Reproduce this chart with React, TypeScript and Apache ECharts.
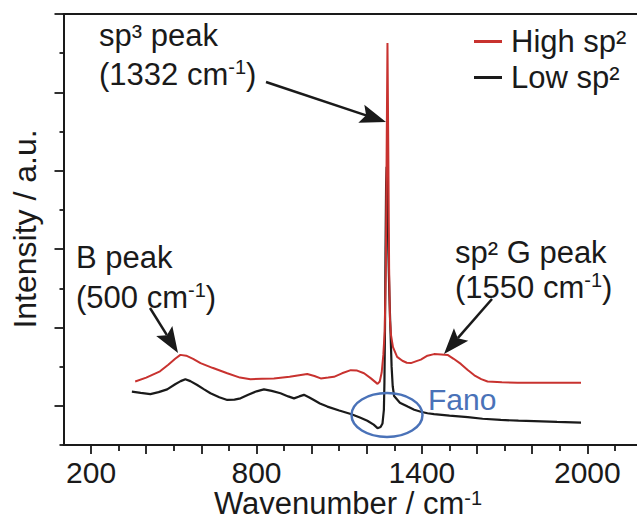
import React, { useEffect, useRef } from 'react';
import * as echarts from 'echarts';

// ---- data (x in axis units as drawn, y in arbitrary units) ----
const highSp2: [number, number][] = [
  [360, 1.62], [400, 1.72], [450, 1.88], [480, 2.05], [505, 2.2], [524, 2.3], [545, 2.28], [570, 2.2],
  [597, 2.09], [640, 1.97], [694, 1.83], [740, 1.72], [778, 1.68], [820, 1.69], [863, 1.7], [920, 1.74],
  [984, 1.81], [1010, 1.76], [1033, 1.7], [1060, 1.72], [1081, 1.74], [1110, 1.83], [1142, 1.91],
  [1165, 1.9], [1190, 1.83], [1215, 1.7], [1239, 1.56], [1247, 1.62], [1254, 1.85], [1260, 2.3],
  [1265, 2.9], [1269, 4.5], [1272, 7.5], [1275, 10.26], [1278, 7.5], [1281, 4.5], [1284, 3.2],
  [1288, 2.8], [1295, 2.5], [1310, 2.25], [1329, 2.15], [1345, 2.1], [1360, 2.09], [1380, 2.14],
  [1396, 2.18], [1420, 2.28], [1444, 2.32], [1470, 2.31], [1493, 2.3], [1515, 2.2], [1541, 2.07],
  [1565, 1.92], [1590, 1.78], [1615, 1.68], [1638, 1.62], [1690, 1.6], [1747, 1.59], [1850, 1.59],
  [1977, 1.59]
];
const lowSp2: [number, number][] = [
  [348, 1.36], [380, 1.33], [415, 1.3], [445, 1.35], [476, 1.42], [505, 1.55], [525, 1.63], [542, 1.68],
  [560, 1.63], [585, 1.53], [610, 1.42], [633, 1.32], [665, 1.22], [694, 1.15], [720, 1.16], [742, 1.19],
  [770, 1.28], [800, 1.37], [827, 1.42], [855, 1.38], [887, 1.32], [915, 1.24], [936, 1.19], [955, 1.24],
  [972, 1.28], [990, 1.22], [1008, 1.15], [1030, 1.06], [1057, 0.98], [1100, 0.88], [1142, 0.79],
  [1175, 0.7], [1202, 0.62], [1225, 0.52], [1239, 0.43], [1250, 0.46], [1257, 0.55], [1262, 0.9],
  [1264, 1.6], [1266, 3.0], [1268, 5.0], [1270, 6.6], [1272, 7.1], [1275, 6.4], [1278, 5.0],
  [1282, 3.8], [1286, 2.9], [1290, 2.0], [1294, 1.5], [1299, 1.25], [1320, 1.08], [1348, 0.98],
  [1372, 0.9], [1396, 0.85], [1420, 0.81], [1444, 0.79], [1500, 0.75], [1566, 0.71], [1620, 0.67],
  [1686, 0.64], [1750, 0.62], [1807, 0.61], [1890, 0.59], [1977, 0.57]
];
const seriesNames = ['High sp²', 'Low sp²'];
const xLabelValues = [200, 800, 1400, 2000];
const xMajorTicks = [200, 400, 600, 800, 1000, 1200, 1400, 1600, 1800, 2000];
const xMinorTicks = [300, 500, 700, 900, 1100, 1300, 1500, 1700, 1900, 2100];
const yMajorTicks = [1, 3, 5, 7, 9, 11];
const yMinorTicks = [0, 2, 4, 6, 8, 10];

const FONT = '"Liberation Sans", Arial, Helvetica, sans-serif';
const INK = '#1a1a1a';
const RED = '#c8322f';
const BLUE = '#4a72b8';

function supRich(fs: number, color = INK, lh = fs + 4) {
  const ss = Math.round(fs * 0.66);
  return {
    n: { fontSize: fs, fontFamily: FONT, color, lineHeight: lh },
    s: { fontSize: ss, fontFamily: FONT, color, verticalAlign: 'top', lineHeight: ss }
  };
}

function label(text: string, x: number, y: number, fs: number, extra: any = {}) {
  return {
    type: 'text', x, y, z: 100,
    style: {
      text, fill: INK, font: `${fs}px ${FONT}`, fontSize: fs, fontFamily: FONT,
      rich: supRich(fs), align: 'left', verticalAlign: 'middle', ...extra
    }
  };
}

function arrow(x1: number, y1: number, x2: number, y2: number) {
  const dx = x2 - x1, dy = y2 - y1, L = Math.hypot(dx, dy);
  const ux = dx / L, uy = dy / L;
  const hl = 26, hw = 9.5, notch = 5;
  const bx = x2 - ux * hl, by = y2 - uy * hl;
  return [
    { type: 'line', z: 100, shape: { x1, y1, x2: bx + ux * notch, y2: by + uy * notch }, style: { stroke: INK, lineWidth: 2.5 } },
    {
      type: 'polygon', z: 100,
      shape: { points: [[x2, y2], [bx - uy * hw, by + ux * hw], [bx + ux * notch, by + uy * notch], [bx + uy * hw, by - ux * hw]] },
      style: { fill: INK }
    }
  ];
}

export default function App() {
  const ref = useRef<HTMLDivElement>(null);
  useEffect(() => {
    if (!ref.current) return;
    const chart = echarts.init(ref.current, undefined, { renderer: 'svg' });
    const xCommon = { type: 'value', min: 100, max: 2180, interval: 100, splitLine: { show: false } };
    const yCommon = { type: 'value', min: 0, max: 11, interval: 1, splitLine: { show: false } };
    chart.setOption({
      animation: false,
      backgroundColor: '#ffffff',
      grid: { left: 63.5, top: 14, right: 0, bottom: 75, containLabel: false, outerBoundsMode: 'none' },
      legend: {
        data: seriesNames, orient: 'vertical', left: 474, top: 26, itemWidth: 28, itemHeight: 3,
        icon: 'rect', itemGap: 5, padding: 0,
        textStyle: { fontSize: 31, fontFamily: FONT, color: INK, lineHeight: 31, padding: [0, 0, 0, 4] }
      },
      xAxis: [
        {
          ...xCommon, position: 'bottom',
          axisLine: { show: true, onZero: false, lineStyle: { color: INK, width: 2 } },
          axisTick: { show: true, inside: false, length: 9, customValues: xMajorTicks, lineStyle: { color: INK, width: 1.8 } },
          axisLabel: {
            show: true, customValues: xLabelValues, fontSize: 30, lineHeight: 24, fontFamily: FONT, color: INK, margin: 15,
            formatter: (v: number) => String(v)
          }
        },
        {
          ...xCommon, position: 'bottom',
          axisLine: { show: false },
          axisTick: { show: true, inside: false, length: 6, customValues: xMinorTicks, lineStyle: { color: INK, width: 1.8 } },
          axisLabel: { show: false }
        },
        {
          ...xCommon, position: 'top',
          axisLine: { show: true, onZero: false, lineStyle: { color: INK, width: 2 } },
          axisTick: { show: false }, axisLabel: { show: false }
        }
      ],
      yAxis: [
        {
          ...yCommon, position: 'left',
          axisLine: { show: true, onZero: false, lineStyle: { color: INK, width: 2 } },
          axisTick: { show: true, inside: false, length: 9, customValues: yMajorTicks, lineStyle: { color: INK, width: 1.8 } },
          axisLabel: { show: false }
        },
        {
          ...yCommon, position: 'left',
          axisLine: { show: false },
          axisTick: { show: true, inside: false, length: 4, customValues: yMinorTicks, lineStyle: { color: INK, width: 1.8 } },
          axisLabel: { show: false }
        }
      ],
      series: [
        {
          name: seriesNames[1], type: 'line', data: lowSp2, showSymbol: false, symbol: 'none',
          lineStyle: { color: INK, width: 2.2 }, itemStyle: { color: INK }, z: 2
        },
        {
          name: seriesNames[0], type: 'line', data: highSp2, showSymbol: false, symbol: 'none',
          lineStyle: { color: RED, width: 2 }, itemStyle: { color: RED }, z: 3
        }
      ],
      graphic: [
        label('sp³ peak', 99, 35, 31),
        label('{n|(1332 cm}{s|-1}{n|)}', 99, 74, 31),
        label('B peak', 76, 257, 31),
        label('{n|(500 cm}{s|-1}{n|)}', 76, 297, 31),
        label('sp² G peak', 455, 252, 31),
        label('{n|(1550 cm}{s|-1}{n|)}', 455, 287, 31),
        ...arrow(266, 82, 386, 122),
        ...arrow(150, 308, 178, 353),
        ...arrow(492, 299, 444, 354),
        {
          type: 'ellipse', z: 100, shape: { cx: 387, cy: 415, rx: 35.5, ry: 22 },
          style: { fill: 'none', stroke: BLUE, lineWidth: 2.5 }
        },
        {
          type: 'text', x: 428, y: 399, z: 100,
          style: { text: 'Fano', fill: BLUE, font: `30px ${FONT}`, fontSize: 30, fontFamily: FONT, align: 'left', verticalAlign: 'middle' }
        },
        {
          type: 'text', x: 348, y: 503, z: 100,
          style: { text: '{n|Wavenumber / cm}{s|-1}', rich: supRich(31, INK, 30), align: 'center', verticalAlign: 'middle', fontSize: 31, fontFamily: FONT, fill: INK }
        },
        {
          type: 'text', x: 25, y: 229, z: 100, rotation: Math.PI / 2,
          style: { text: 'Intensity / a.u.', fill: INK, font: `32px ${FONT}`, fontSize: 32, fontFamily: FONT, align: 'center', verticalAlign: 'middle' }
        }
      ]
    });
    return () => chart.dispose();
  }, []);
  return <div ref={ref} style={{ position: 'absolute', left: 0, top: 0, width: 637, height: 520 }} />;
}
